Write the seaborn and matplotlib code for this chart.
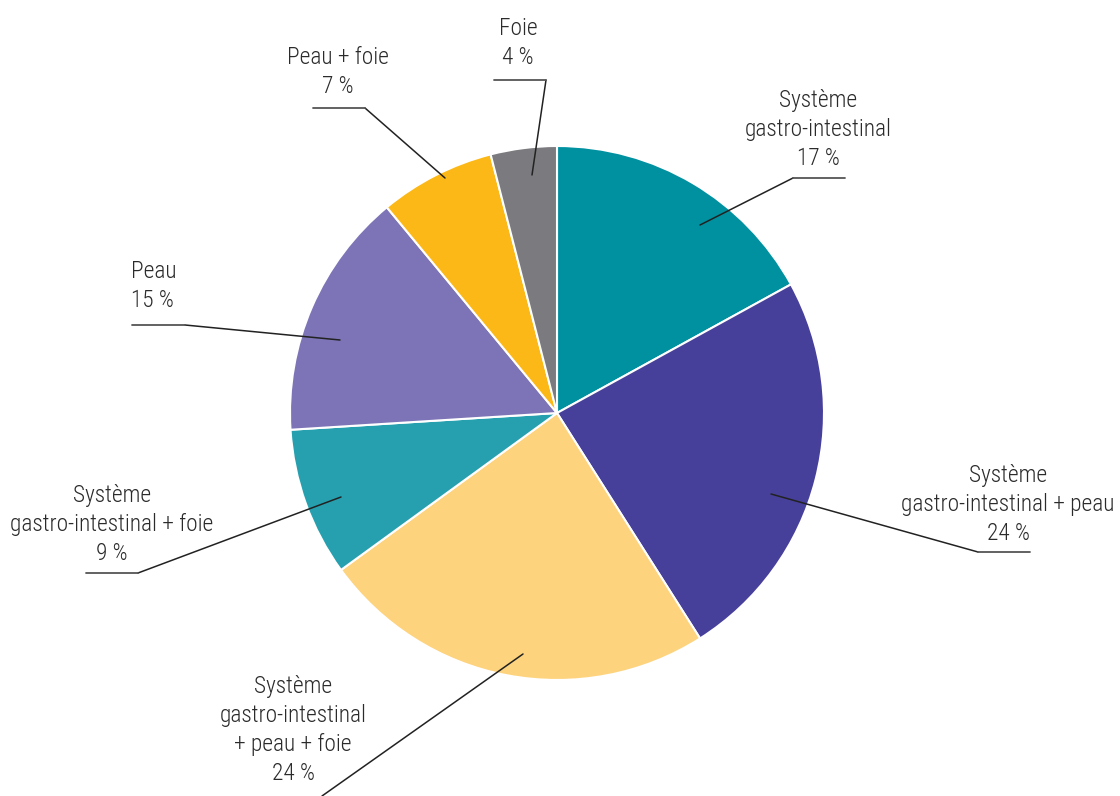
import matplotlib
matplotlib.use("Agg")
import matplotlib.pyplot as plt
from matplotlib import font_manager
import seaborn as sns

# Data
categories = [
    "Système\ngastro-intestinal",
    "Système\ngastro-intestinal + peau",
    "Système\ngastro-intestinal\n+ peau + foie",
    "Système\ngastro-intestinal + foie",
    "Peau",
    "Peau + foie",
    "Foie",
]
shares = [17, 24, 24, 9, 15, 7, 4]
colors = ["#0091A1", "#46409A", "#FDD37E", "#26A0AF", "#7C74B6", "#FBB817", "#7B7B7F"]

# Leader layout in pixel coords: inner point, elbow, end of underline, text anchor, alignment
leaders = [
    ((700, 225), (793, 178), (845, 178), (818, 170), "center"),
    ((771, 494), (978, 552), (1030, 552), (1008, 545), "center"),
    ((523, 654), (322, 796), (322, 796), (293, 785), "center"),
    ((341, 497), (138, 573), (86, 573), (112, 565), "center"),
    ((340, 340), (185, 325), (132, 325), (131, 312), "left"),
    ((445, 178), (365, 108), (313, 108), (338, 98), "center"),
    ((532, 175), (546, 80), (494, 80), (518, 69), "center"),
]

sns.set_theme(style="white")
names = {f.name for f in font_manager.fontManager.ttflist}
family = "Roboto"
for cand in ["Roboto Condensed", "Liberation Sans Narrow", "Open Sans Condensed"]:
    if cand in names:
        family = cand
        break
plt.rcParams["font.family"] = [family, "DejaVu Sans"]

fig = plt.figure(figsize=(11.2, 7.96), dpi=100)
ax = fig.add_axes([0, 0, 1, 1])

# pie drawn clockwise from the top; y axis is flipped so counterclock=True reads clockwise
ax.pie(shares, colors=sns.color_palette(colors), startangle=-90, counterclock=True,
       center=(557, 413), radius=267, frame=True,
       wedgeprops=dict(edgecolor="white", linewidth=1.5))
ax.set_xlim(0, 1120)
ax.set_ylim(796, 0)
ax.set_aspect("equal")
ax.axis("off")

for cat, val, (p0, p1, p2, tpos, ha) in zip(categories, shares, leaders):
    ax.plot([p0[0], p1[0]], [p0[1], p1[1]], color="#222222", lw=1.1, zorder=5)
    ax.plot([p1[0], p2[0]], [p1[1], p2[1]], color="#555555", lw=1.3, zorder=5)
    ax.text(tpos[0], tpos[1], f"{cat}\n{val} %", ha=ha, va="bottom",
            multialignment=ha, fontsize=16.8, fontweight="light",
            color="#2b2b2b", linespacing=1.33)

fig.savefig("out.png", dpi=100)
